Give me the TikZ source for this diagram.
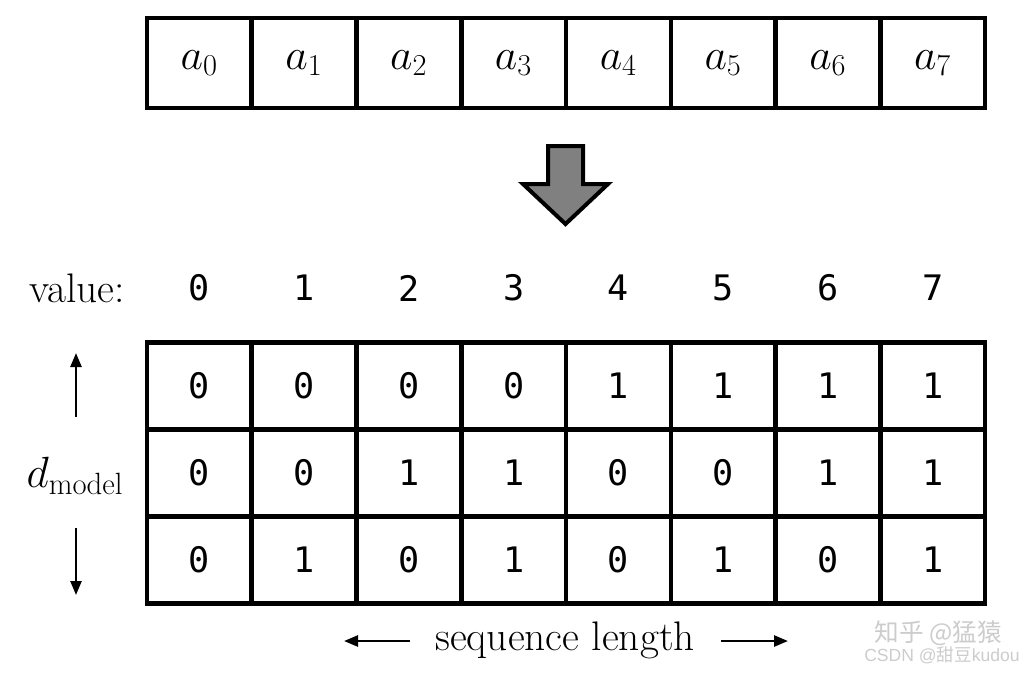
\documentclass[tikz,border=0pt]{standalone}
\usepackage{fontspec}
\usetikzlibrary{arrows.meta}
\newfontfamily\digitfont{DejaVu Sans Mono}
\newfontfamily\cjkfont{Noto Sans CJK SC}
\newfontfamily\wmlatin{Liberation Sans}
\begin{document}
\begin{tikzpicture}[x=0.02cm,y=-0.02cm,
  topcell/.style={draw, line width=0.09cm, minimum width=2.095cm, minimum height=1.8cm, inner sep=0pt,
    font=\fontsize{25}{29}\selectfont},
  gridcell/.style={draw, line width=0.09cm, minimum width=2.095cm, minimum height=1.74cm, inner sep=0pt,
    font=\digitfont\fontsize{20}{24}\selectfont},
  vallabel/.style={inner sep=0pt, font=\digitfont\fontsize{20}{24}\selectfont},
  serlabel/.style={inner sep=0pt, font=\fontsize{23.5}{28}\selectfont},
  arr/.style={line width=0.05cm, -{Triangle[length=0.28cm,width=0.22cm]}},
  wm/.style={inner sep=0pt, text=black!20}]
\useasboundingbox (0,0) rectangle (1030,673);
% top row
\foreach \k in {0,...,7}{
  \node[topcell] (a\k) at ({199.375+104.75*\k},63) {$a_{\k}$};
}
% big arrow
\draw[line width=0.08cm, fill=black!50, line join=miter]
  (548,146) -- (583,146) -- (583,184) -- (608,184) -- (565.5,224) -- (523,184) -- (548,184) -- cycle;
% value labels
\node[serlabel] (vl) at (77,288) {value:};
\foreach \k in {0,...,7}{
  \node[vallabel] (v\k) at ({199.375+104.75*\k},288) {\k};
}
% grid
\foreach \r in {0,1,2}{
  \foreach \k in {0,...,7}{
    \pgfmathtruncatemacro\b{mod(floor(\k/(2^(2-\r))),2)}
    \node[gridcell] (g\r\k) at ({199.375+104.75*\k},{386+87*\r}) {\b};
  }
}
% d_model
\node[serlabel, font=\fontsize{25}{29}\selectfont] (dm) at (75,476) {$d_{\mathrm{model}}$};
\coordinate (u1) at (76,417);
\coordinate (u2) at (76,353);
\coordinate (d1) at (76,528);
\coordinate (d2) at (76,595);
\draw[arr] (u1) -- (u2);
\draw[arr] (d1) -- (d2);
% sequence length
\node[serlabel] (sl) at (565,640) {sequence length};
\coordinate (l1) at (410,641);
\coordinate (l2) at (344,641);
\coordinate (r1) at (721,641);
\coordinate (r2) at (788,641);
\draw[arr] (l1) -- (l2);
\draw[arr] (r1) -- (r2);
% watermarks
\node[wm, font=\cjkfont\fontsize{14}{16}\selectfont] (wm1) at (938,633) {知乎 @猛猿};
\node[wm, font=\wmlatin\fontsize{10}{12}\selectfont] (wm2) at (942,655) {CSDN @{\cjkfont 甜豆}kudou};
\end{tikzpicture}
\end{document}
